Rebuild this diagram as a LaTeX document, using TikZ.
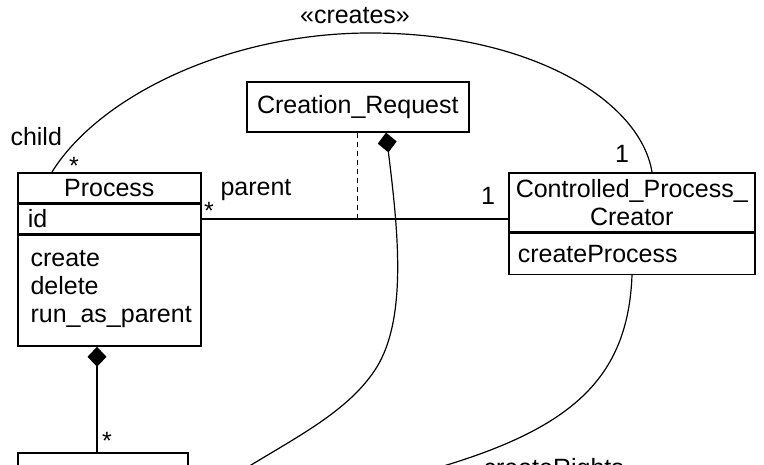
\documentclass[tikz,border=0pt]{standalone}
\usepackage{fontspec}
\setmainfont{Liberation Sans}
\usetikzlibrary{positioning,arrows.meta}

\begin{document}
\begin{tikzpicture}[x=1pt,y=-1pt,
    every node/.style={font=\fontsize{25}{28}\selectfont},
    box/.style={draw,line width=1.6pt,inner sep=0pt,anchor=north west},
    conn/.style={line width=1.2pt},
    comp/.style={{Diamond[length=20pt,width=19pt,fill=black]}-}]
\useasboundingbox (0,0) rectangle (764,465);
\node[box,minimum width=183pt,minimum height=30pt] (process) at (17,172) {Process};
\node[box,below=0pt of process,minimum width=183pt,minimum height=29pt,text width=163pt,inner xsep=10pt,align=left] (processid) {id};
\node[box,below=0pt of processid,minimum width=183pt,minimum height=111pt] (processops) {};
\node[anchor=base west,align=left] (processopstext) at ([xshift=10pt,yshift=-88pt]processops.north west) {create\\delete\\run\_as\_parent};
\node[box,minimum width=170pt,minimum height=60pt] (part) at (17,452) {};
\node[box,minimum width=222pt,minimum height=50pt] (request) at (246,81) {Creation\_Request};
\node[box,minimum width=246pt,minimum height=59pt,align=center] (creator) at (508,172) {Controlled\_Process\_\\Creator};
\node[box,below=0pt of creator,minimum width=246pt,minimum height=41pt,text width=228pt,inner xsep=9pt,align=left] (creatorops) {createProcess};
\coordinate (procfoot) at ([xshift=80pt]processops.south west);
\coordinate (requestend) at (230,478);
\coordinate (rightsend) at (430,470);
\draw[line width=1.6pt] (processid.east) -- (processid.east -| creator.west);
\draw[line width=0.9pt,dash pattern=on 5pt off 4pt] (request.south) -- (request.south |- processid.east);
\draw[conn] ([xshift=35pt]process.north west) .. controls (100,95) and (230,33) .. (370,33) .. controls (530,33) and (640,100) .. ([xshift=144pt]creator.north west);
\draw[conn,comp] ([xshift=140pt]request.south west) .. controls (398,230) and (408,320) .. (375,370) .. controls (345,415) and (290,440) .. (requestend);
\draw[line width=1.6pt,comp] (procfoot) -- (procfoot |- part.north);
\draw[conn] ([xshift=124pt]creatorops.south west) .. controls (628,380) and (570,430) .. (rightsend);
\node[anchor=base] (createslabel) at (355,23.5) {«creates»};
\node[anchor=base west] (childlabel) at (7,146) {child};
\node (childmult) at (74,166) {*};
\node[anchor=base west] (parentlabel) at (217,196) {parent};
\node (parentmult) at (209,211) {*};
\node[anchor=base] (creatormult) at (488,205) {1};
\node[anchor=base] (createsmult) at (622,163) {1};
\node (partmult) at (107,441) {*};
\node[anchor=base west] (rightslabel) at (480,476) {createRights};
\end{tikzpicture}
\end{document}
